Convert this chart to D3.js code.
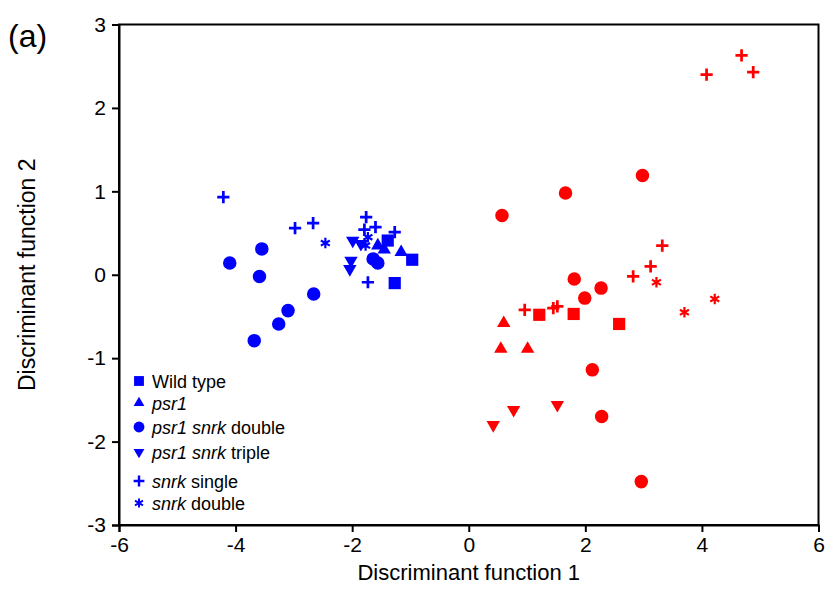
<!DOCTYPE html>
<html><head><meta charset="utf-8">
<script src="https://cdn.jsdelivr.net/npm/d3@7"></script>
<style>body{margin:0;background:#fff;font-family:"Liberation Sans",Arial,sans-serif;}</style>
</head><body>
<script>
// ---- data ----
const xTicks = [-6,-4,-2,0,2,4,6];
const yTicks = [-3,-2,-1,0,1,2,3];
const legendLabels = [
  [{t:"Wild type",i:false}],
  [{t:"psr1",i:true}],
  [{t:"psr1 snrk",i:true},{t:" double",i:false}],
  [{t:"psr1 snrk",i:true},{t:" triple",i:false}],
  [{t:"snrk",i:true},{t:" single",i:false}],
  [{t:"snrk",i:true},{t:" double",i:false}]
];
const shapes = ["square","triangle","circle","triangleDown","plus","asterisk"];
// blue group
const blueWildType = [[-1.39,0.41],[-0.97,0.18],[-1.27,-0.10]];
const bluePsr1 = [[-1.56,0.35],[-1.16,0.27],[-1.45,0.30]];
const bluePsr1SnrkDouble = [[-4.10,0.14],[-3.55,0.31],[-3.59,-0.02],[-2.66,-0.23],[-3.10,-0.43],[-3.26,-0.59],[-3.68,-0.79],[-1.64,0.19],[-1.56,0.14]];
const bluePsr1SnrkTriple = [[-1.99,0.41],[-1.85,0.37],[-2.02,0.17],[-2.04,0.07]];
const blueSnrkSingle = [[-4.21,0.93],[-2.98,0.56],[-2.67,0.62],[-1.76,0.69],[-1.79,0.54],[-1.60,0.57],[-1.27,0.51],[-1.73,-0.09]];
const blueSnrkDouble = [[-2.46,0.38],[-1.73,0.45],[-1.77,0.35]];
// red group
const redWildType = [[1.21,-0.48],[1.80,-0.47],[2.58,-0.59]];
const redPsr1 = [[0.60,-0.58],[0.55,-0.89],[1.01,-0.89]];
const redPsr1SnrkDouble = [[2.98,1.19],[1.66,0.98],[0.57,0.71],[1.81,-0.05],[2.27,-0.16],[1.99,-0.28],[2.12,-1.14],[2.28,-1.70],[2.96,-2.48]];
const redPsr1SnrkTriple = [[1.52,-1.56],[0.77,-1.62],[0.42,-1.80]];
const redSnrkSingle = [[4.68,2.63],[4.88,2.43],[4.08,2.40],[3.32,0.35],[3.12,0.10],[2.82,-0.02],[0.96,-0.42],[1.45,-0.40],[1.52,-0.38]];
const redSnrkDouble = [[3.22,-0.09],[4.22,-0.29],[3.70,-0.45]];

const blueSeries = [blueWildType,bluePsr1,bluePsr1SnrkDouble,bluePsr1SnrkTriple,blueSnrkSingle,blueSnrkDouble];
const redSeries = [redWildType,redPsr1,redPsr1SnrkDouble,redPsr1SnrkTriple,redSnrkSingle,redSnrkDouble];

// ---- layout ----
const W=826,H=608;
const L=119,R=818.5,T=24.5,B=525;
const FONT="Liberation Sans, Arial, sans-serif";
const svg=d3.select("body").append("svg").attr("width",W).attr("height",H).attr("font-family",FONT);
const x=d3.scaleLinear().domain([-6,6]).range([L,R]);
const y=d3.scaleLinear().domain([-3,3]).range([B,T]);

// frame
svg.append("rect").attr("x",L).attr("y",T).attr("width",R-L).attr("height",B-T)
  .attr("fill","none").attr("stroke","#000").attr("stroke-width",2);

const xa=svg.append("g").attr("transform",`translate(0,${B})`)
  .call(d3.axisBottom(x).tickValues(xTicks).tickSize(7).tickPadding(5).tickFormat(d=>String(d)));
const ya=svg.append("g").attr("transform",`translate(${L},0)`)
  .call(d3.axisLeft(y).tickValues(yTicks).tickSize(7).tickPadding(6).tickFormat(d=>String(d)));
[xa,ya].forEach(a=>{
  a.select(".domain").attr("stroke-width",2);
  a.selectAll(".tick line").attr("stroke-width",2);
  a.selectAll("text").attr("font-size",21).attr("font-family",FONT).attr("fill","#000");
});

svg.append("text").attr("x",x(0)).attr("y",580).attr("text-anchor","middle")
  .attr("font-size",22).text("Discriminant function 1");
svg.append("text").attr("transform",`translate(35,${y(0)}) rotate(-90)`).attr("text-anchor","middle")
  .attr("font-size",23).text("Discriminant function 2");
svg.append("text").attr("x",8).attr("y",47).attr("font-size",32).text("(a)");

function drawMarker(g,shape,cx,cy,color,s){
  if(shape==="plus"){
    const h=s*0.47;
    g.append("path").attr("d",`M${cx-h},${cy}H${cx+h}M${cx},${cy-h}V${cy+h}`)
      .attr("stroke",color).attr("stroke-width",s*0.21).attr("fill","none");
  } else if(shape==="asterisk"){
    const r=s*0.4;let d="";
    for(let k=0;k<3;k++){const a=Math.PI/2+k*Math.PI/3;d+=`M${cx-r*Math.cos(a)},${cy-r*Math.sin(a)}L${cx+r*Math.cos(a)},${cy+r*Math.sin(a)}`;}
    g.append("path").attr("d",d).attr("stroke",color).attr("stroke-width",s*0.17).attr("fill","none");
  } else {
    let sym, rot=0, area;
    if(shape==="square"){sym=d3.symbolSquare;area=s*s*0.88;}
    else if(shape==="circle"){sym=d3.symbolCircle;area=Math.PI*(s*0.52)**2;}
    else {sym=d3.symbolTriangle;area=s*s*0.46;if(shape==="triangleDown")rot=180;}
    g.append("path").attr("d",d3.symbol().type(sym).size(area)())
      .attr("transform",`translate(${cx},${cy}) rotate(${rot})`).attr("fill",color);
  }
}

const pts=svg.append("g");
[[blueSeries,"#0000ff"],[redSeries,"#ff0000"]].forEach(([ser,col])=>{
  ser.forEach((arr,i)=>arr.forEach(p=>drawMarker(pts,shapes[i],x(p[0]),y(p[1]),col,13)));
});

// legend
const legY=[381,403,427,452,481,503];
const lg=svg.append("g");
legendLabels.forEach((parts,i)=>{
  drawMarker(lg,shapes[i],139,legY[i],"#0000ff",i>=4?11.5:10.5);
  const t=lg.append("text").attr("x",152).attr("y",legY[i]+6.5).attr("font-size",18);
  parts.forEach(p=>t.append("tspan").attr("font-style",p.i?"italic":"normal").text(p.t));
});
</script>
</body></html>
